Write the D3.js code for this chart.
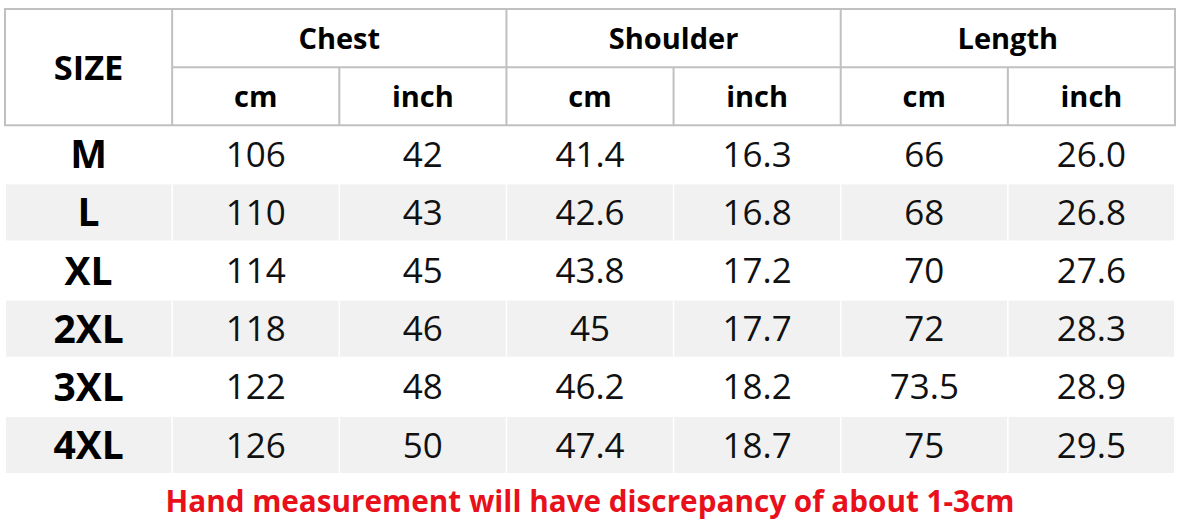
<!DOCTYPE html>
<html><head><meta charset="utf-8">
<script src="https://cdn.jsdelivr.net/npm/d3@7/dist/d3.min.js"></script>
<style>html,body{margin:0;padding:0;background:#fff;}svg{display:block;}</style>
</head><body><svg id="c" width="1180" height="532"></svg>
<script>
const sizes = ["M","L","XL","2XL","3XL","4XL"];
const chestCm = [106,110,114,118,122,126];
const chestIn = [42,43,45,46,48,50];
const shoulderCm = [41.4,42.6,43.8,45,46.2,47.4];
const shoulderIn = [16.3,16.8,17.2,17.7,18.2,18.7];
const lengthCm = [66,68,70,72,73.5,75];
const lengthIn = [26.0,26.8,27.6,28.3,28.9,29.5];
const groups = ["Chest","Shoulder","Length"];
const units = ["cm","inch"];
const note = "Hand measurement will have discrepancy of about 1-3cm";

const columns = ["size","chestCm","chestIn","shoulderCm","shoulderIn","lengthCm","lengthIn"];
const series = [chestCm,chestIn,shoulderCm,shoulderIn,lengthCm,lengthIn];
const fmt = [String,String,String,String,String,d3.format(".1f")];
const rowKeys = ["h1","h2"].concat(sizes);

const FONT = "'Open Sans', 'Noto Sans', sans-serif";
const svg = d3.select("#c");
const x = d3.scaleBand().domain(columns).range([5,1175]);
const y = d3.scaleBand().domain(rowKeys).range([9,474]);
const bw = x.bandwidth(), bh = y.bandwidth();

// zebra rows
const dataG = svg.append("g");
sizes.forEach((s,i)=>{
  if(i%2===1){
    dataG.append("rect").attr("x",x("size")+1).attr("y",y(s)+1)
      .attr("width",1168).attr("height",bh-2).attr("fill","#f1f1f1");
    columns.slice(1).forEach(c=>{
      dataG.append("line").attr("x1",x(c)).attr("x2",x(c))
        .attr("y1",y(s)+1).attr("y2",y(s)+bh-1)
        .attr("stroke","#fff").attr("stroke-width",1.5);
    });
  }
});

// header borders
const hb = svg.append("g").attr("stroke","#c0c0c0").attr("stroke-width",2).attr("fill","none");
hb.append("rect").attr("x",x("size")).attr("y",y("h1")).attr("width",1170).attr("height",2*bh);
hb.append("line").attr("x1",x("chestCm")).attr("x2",1175).attr("y1",y("h2")).attr("y2",y("h2"));
columns.slice(1).forEach((c,i)=>{
  const full = i%2===0;
  hb.append("line").attr("x1",x(c)).attr("x2",x(c))
    .attr("y1",full?y("h1"):y("h2")).attr("y2",y("h2")+bh);
});

// header text
svg.append("text").attr("x",x("size")+bw/2).attr("y",y("h2")).attr("dy","0.36em")
  .attr("text-anchor","middle").attr("font-family",FONT).attr("font-weight","bold")
  .attr("font-size",34.5).text("SIZE");
groups.forEach((g,i)=>{
  const cx = x(columns[1+2*i])+bw;
  svg.append("text").attr("x",cx).attr("y",y("h1")+bh/2).attr("dy","0.36em")
    .attr("text-anchor","middle").attr("font-family",FONT).attr("font-weight","bold")
    .attr("font-size",29).text(g);
  units.forEach((u,j)=>{
    svg.append("text").attr("x",x(columns[1+2*i+j])+bw/2).attr("y",y("h2")+bh/2).attr("dy","0.36em")
      .attr("text-anchor","middle").attr("font-family",FONT).attr("font-weight","bold")
      .attr("font-size",29).text(u);
  });
});

// data text
sizes.forEach((s,i)=>{
  svg.append("text").attr("x",x("size")+bw/2).attr("y",y(s)+bh/2).attr("dy","0.36em")
    .attr("text-anchor","middle").attr("font-family",FONT).attr("font-weight","bold")
    .attr("font-size",39).text(s);
  series.forEach((arr,k)=>{
    svg.append("text").attr("x",x(columns[k+1])+bw/2).attr("y",y(s)+bh/2).attr("dy","0.36em")
      .attr("text-anchor","middle").attr("font-family",FONT)
      .attr("font-size",35).attr("fill","#111").text(fmt[k](arr[i]));
  });
});

// note
svg.append("text").attr("x",590).attr("y",512).attr("text-anchor","middle")
  .attr("font-family",FONT).attr("font-weight","bold").attr("font-size",29.7)
  .attr("fill","#e8101a").text(note);
</script></body></html>
